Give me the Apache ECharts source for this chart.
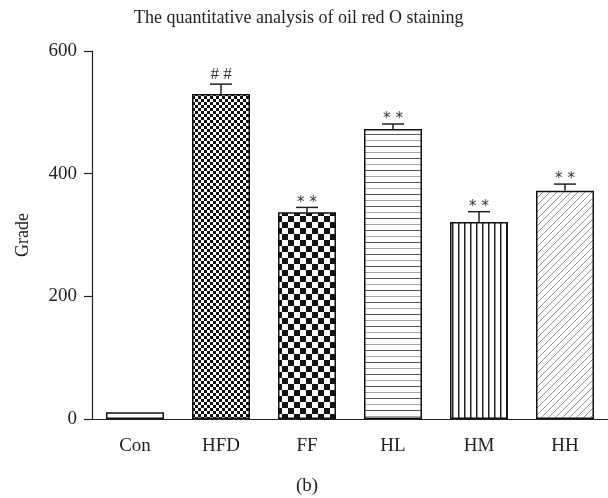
<!DOCTYPE html>
<html>
<head>
<meta charset="utf-8">
<script src="https://cdn.jsdelivr.net/npm/echarts@6/dist/echarts.min.js"></script>
<style>
  html, body { margin: 0; padding: 0; background: #fff; }
  #main { width: 608px; height: 498px; }
</style>
</head>
<body>
<div id="main"></div>
<script>
// data
var categories = ['Con', 'HFD', 'FF', 'HL', 'HM', 'HH'];
var means = [11, 530, 337, 473, 321, 372];
var errors = [0, 16, 8, 8, 17, 11];
var marks = ['', '##', '**', '**', '**', '**'];
var yMin = 0, yMax = 600, yStep = 200;

var FONT = '"Liberation Serif", "DejaVu Serif", serif';

// small canvas tiles used as bar fills
function tile(w, h, draw) {
    var c = document.createElement('canvas');
    c.width = w; c.height = h;
    var ctx = c.getContext('2d');
    ctx.fillStyle = '#fff';
    ctx.fillRect(0, 0, w, h);
    draw(ctx);
    return { image: c, repeat: 'repeat' };
}
function checker(s) {
    return tile(s * 2, s * 2, function (ctx) {
        ctx.fillStyle = '#111';
        ctx.fillRect(0, 0, s, s);
        ctx.fillRect(s, s, s, s);
    });
}
var fills = [
    '#fff',
    checker(3),
    checker(6),
    tile(12, 12, function (ctx) { // horizontal lines
        ctx.fillStyle = '#555'; ctx.fillRect(0, 2, 12, 1);
        ctx.fillStyle = '#aaa'; ctx.fillRect(0, 8, 12, 1);
    }),
    tile(6, 6, function (ctx) { // vertical lines
        ctx.fillStyle = '#222'; ctx.fillRect(2, 0, 1.5, 6);
    }),
    tile(7, 7, function (ctx) { // diagonal hatch
        ctx.strokeStyle = '#777'; ctx.lineWidth = 0.8;
        ctx.beginPath();
        ctx.moveTo(-1, 8); ctx.lineTo(8, -1);
        ctx.moveTo(-1, 1); ctx.lineTo(1, -1);
        ctx.moveTo(6, 8); ctx.lineTo(8, 6);
        ctx.stroke();
    })
];

var chart = echarts.init(document.getElementById('main'));

chart.setOption({
    animation: false,
    backgroundColor: '#fff',
    title: {
        text: 'The quantitative analysis of oil red O staining',
        left: 129,
        top: 4,
        textStyle: { fontFamily: FONT, fontSize: 18, fontWeight: 'normal', color: '#222' }
    },
    graphic: [{
        type: 'text',
        x: 307,
        y: 486,
        style: { text: '(b)', align: 'center', verticalAlign: 'middle', font: '19px ' + FONT, fill: '#222' }
    }],
    grid: { left: 92, right: 0, top: 51, bottom: 79 },
    xAxis: {
        type: 'category',
        data: categories,
        axisLine: { lineStyle: { color: '#222', width: 1.2 } },
        axisTick: { alignWithLabel: true, length: 7, lineStyle: { color: '#222', width: 1.2 } },
        axisLabel: { margin: 18, fontFamily: FONT, fontSize: 19, color: '#222' }
    },
    yAxis: {
        type: 'value',
        min: yMin,
        max: yMax,
        interval: yStep,
        name: 'Grade',
        nameLocation: 'middle',
        nameRotate: 90,
        nameGap: 60,
        nameTextStyle: { fontFamily: FONT, fontSize: 18, color: '#222' },
        splitLine: { show: false },
        axisLine: { show: true, lineStyle: { color: '#222', width: 1.2 } },
        axisTick: { show: true, length: 8, lineStyle: { color: '#222', width: 1.2 } },
        axisLabel: { margin: 15, fontFamily: FONT, fontSize: 19, color: '#222' }
    },
    series: [
        {
            type: 'bar',
            barWidth: 58,
            data: means.map(function (v, i) {
                return {
                    value: v,
                    itemStyle: { color: fills[i], borderColor: '#111', borderWidth: 1.5 }
                };
            })
        },
        {
            type: 'custom',
            z: 5,
            data: means.map(function (v, i) { return [i, v, errors[i], marks[i]]; }),
            renderItem: function (params, api) {
                var i = api.value(0);
                var base = api.coord([i, api.value(1)]);
                var top = api.coord([i, api.value(1) + api.value(2)]);
                var children = [];
                if (api.value(2) > 0) {
                    children.push({
                        type: 'line',
                        shape: { x1: base[0], y1: base[1], x2: top[0], y2: top[1] },
                        style: { stroke: '#222', lineWidth: 1.5 }
                    });
                    children.push({
                        type: 'line',
                        shape: { x1: top[0] - 11, y1: top[1], x2: top[0] + 11, y2: top[1] },
                        style: { stroke: '#222', lineWidth: 1.5 }
                    });
                }
                var mark = marks[i];
                if (mark) {
                    var star = mark.charAt(0) === '*';
                    children.push({
                        type: 'text',
                        x: top[0],
                        y: star ? top[1] + 3 : top[1] - 1,
                        style: {
                            text: mark.split('').join(' '),
                            align: 'center',
                            verticalAlign: 'bottom',
                            font: star ? '15px "DejaVu Sans", sans-serif' : '17px ' + FONT,
                            fill: '#333'
                        }
                    });
                }
                return { type: 'group', children: children };
            }
        }
    ]
});
</script>
</body>
</html>
